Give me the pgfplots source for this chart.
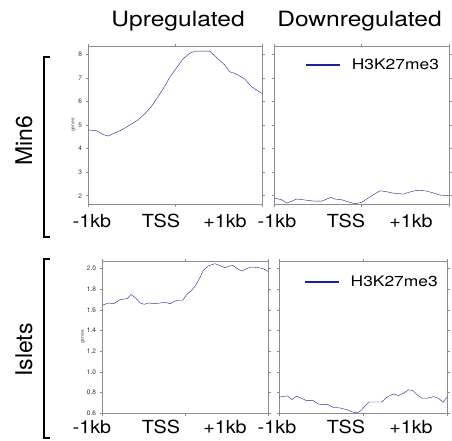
\documentclass[border=0pt]{standalone}
\usepackage{pgfplots}
\pgfplotsset{compat=1.18}
\usepackage{graphicx}
\usepackage{fontspec}
\setmainfont{TeX Gyre Heros}

\definecolor{lineblue}{RGB}{28,32,150}
\definecolor{framegray}{RGB}{140,140,140}

\pgfplotsset{
  panel/.style={
    scale only axis, anchor=south west,
    xmin=-1, xmax=1,
    xtick={-1,0,1}, xticklabels={},
    tick align=outside, major tick length=2.5pt,
    axis line style={framegray, line width=0.6pt},
    tick style={framegray, line width=0.5pt},
    yticklabel style={font=\fontsize{6.5}{7}\selectfont, text=black!80},
    /pgf/number format/assume math mode=true,
    ylabel style={font=\fontsize{5}{6}\selectfont, text=black!70},
    cycle list={{lineblue, line width=1pt, mark=none}},
    legend style={draw=none, fill=none, font=\fontsize{14.5}{16}\selectfont, inner sep=0pt},
    legend image code/.code={\draw[lineblue, line width=2.2pt] (0pt,0pt) -- (34pt,0pt); \path (44pt,0pt);},
  },
  toprow/.style={panel, width=174pt, height=158pt, ymin=1.65, ymax=8.35, ytick={2,3,4,5,6,7,8}},
  botrow/.style={panel, height=152pt, ymin=0.6, ymax=2.074, ytick={0.6,0.8,1.0,1.2,1.4,1.6,1.8,2.0},
    yticklabel style={/pgf/number format/.cd, fixed, fixed zerofill, precision=1}},
}

\newcommand{\tl}[1]{\fontsize{18}{20}\selectfont\scalebox{1.1}[1]{#1}}

\begin{document}
\begin{tikzpicture}[x=1pt, y=1pt]
\useasboundingbox (0,0) rectangle (452,440);

% Min6, upregulated
\begin{axis}[toprow, at={(88pt,236pt)}, ylabel={genes}, ylabel shift=-4pt]
\addplot coordinates {
(-1.000,4.79)(-0.904,4.76)(-0.828,4.60)(-0.770,4.53)(-0.732,4.60)(-0.655,4.72)
(-0.598,4.82)(-0.521,5.00)(-0.425,5.21)(-0.349,5.47)(-0.272,5.78)(-0.195,6.20)
(-0.119,6.63)(-0.061,7.02)(0.015,7.41)(0.092,7.80)(0.169,8.04)(0.226,8.13)
(0.322,8.13)(0.398,8.13)(0.475,7.87)(0.571,7.55)(0.628,7.26)(0.686,7.19)
(0.743,7.08)(0.801,6.95)(0.877,6.63)(0.935,6.49)(1.000,6.34)
};
\end{axis}

% Min6, downregulated
\begin{axis}[toprow, width=175pt, at={(274pt,236pt)}, yticklabels={},
  legend style={at={(0.955,0.88)}, anchor=east}]
\addplot coordinates {
(-1.000,1.90)(-0.912,1.83)(-0.855,1.69)(-0.798,1.77)(-0.741,1.86)(-0.665,1.83)
(-0.608,1.80)(-0.531,1.77)(-0.455,1.77)(-0.398,1.86)(-0.352,1.93)(-0.303,1.86)
(-0.227,1.83)(-0.150,1.74)(-0.074,1.66)(0.002,1.72)(0.059,1.86)(0.135,2.04)
(0.211,2.21)(0.288,2.17)(0.364,2.11)(0.478,2.07)(0.554,2.16)(0.630,2.23)
(0.726,2.21)(0.802,2.14)(0.897,2.03)(1.000,2.00)
};
\addlegendentry{\scalebox{1.2}[1]{H3K27me3}}
\end{axis}

% Islets, upregulated
\begin{axis}[botrow, width=166pt, at={(102pt,27pt)}, ylabel={genes}, ylabel shift=-5pt]
\addplot coordinates {
(-1.000,1.644)(-0.920,1.667)(-0.860,1.660)(-0.780,1.700)(-0.720,1.706)(-0.692,1.710)
(-0.652,1.750)(-0.600,1.720)(-0.540,1.667)(-0.492,1.654)(-0.440,1.667)(-0.360,1.660)
(-0.300,1.667)(-0.240,1.673)(-0.180,1.660)(-0.120,1.686)(-0.080,1.693)(-0.028,1.693)
(0.020,1.748)(0.080,1.790)(0.120,1.830)(0.172,1.900)(0.220,1.984)(0.280,2.026)
(0.360,2.048)(0.420,2.030)(0.480,2.010)(0.540,2.026)(0.580,2.030)(0.640,1.994)
(0.688,1.977)(0.740,2.000)(0.800,2.016)(0.880,2.010)(0.940,2.000)(1.000,1.974)
};
\end{axis}

% Islets, downregulated
\begin{axis}[botrow, width=168pt, at={(279pt,27pt)}, yticklabels={},
  legend style={at={(0.958,0.862)}, anchor=east}]
\addplot coordinates {
(-1.000,0.753)(-0.932,0.763)(-0.892,0.763)(-0.845,0.730)(-0.793,0.763)(-0.733,0.743)
(-0.673,0.720)(-0.594,0.720)(-0.534,0.688)(-0.474,0.681)(-0.414,0.681)(-0.355,0.655)
(-0.275,0.649)(-0.195,0.633)(-0.135,0.613)(-0.076,0.600)(-0.036,0.616)(0.004,0.649)
(0.072,0.707)(0.143,0.707)(0.223,0.707)(0.283,0.753)(0.363,0.785)(0.422,0.769)
(0.482,0.792)(0.542,0.824)(0.594,0.818)(0.641,0.779)(0.701,0.743)(0.761,0.743)
(0.841,0.759)(0.900,0.743)(0.952,0.704)(1.000,0.753)
};
\addlegendentry{\scalebox{1.2}[1]{H3K27me3}}
\end{axis}

% column titles
\node[anchor=base, font=\fontsize{21}{24}\selectfont] at (178,413) {\scalebox{1.17}[1]{Upregulated}};
\node[anchor=base, font=\fontsize{21}{24}\selectfont] at (359.5,413) {\scalebox{1.17}[1]{Downregulated}};

% x labels under each row
\foreach \yb in {213,7} {
  \node[anchor=base] at (92,\yb) {\tl{-1kb}};
  \node[anchor=base] at (161,\yb) {\tl{TSS}};
  \node[anchor=base] at (225,\yb) {\tl{+1kb}};
  \node[anchor=base] at (277,\yb) {\tl{-1kb}};
  \node[anchor=base] at (346,\yb) {\tl{TSS}};
  \node[anchor=base] at (411,\yb) {\tl{+1kb}};
}

% row labels and brackets
\node[rotate=90, font=\fontsize{23}{26}\selectfont] at (24,299) {Min6};
\node[rotate=90, font=\fontsize{23}{26}\selectfont] at (24,90) {Islets};
\draw[line width=1.1pt] (50,383) -- (44,383) -- (44,203) -- (50,203);
\draw[line width=1.1pt] (50,181) -- (44,181) -- (44,2) -- (50,2);
\end{tikzpicture}
\end{document}
